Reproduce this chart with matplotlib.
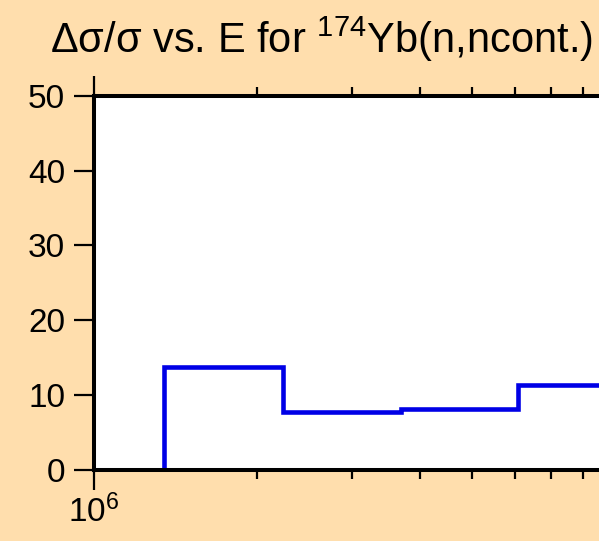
import matplotlib
matplotlib.use("Agg")
import matplotlib.pyplot as plt
from matplotlib.ticker import LogLocator, NullFormatter, FixedLocator

plt.rcParams['font.family'] = ['Liberation Sans', 'DejaVu Sans']
plt.rcParams['mathtext.fontset'] = 'custom'
plt.rcParams['mathtext.rm'] = 'Liberation Sans'
plt.rcParams['mathtext.it'] = 'Liberation Sans'
plt.rcParams['mathtext.bf'] = 'Liberation Sans'

# data (energy bin edges in eV, relative uncertainty in %)
edges = [1.35e6, 2.24e6, 3.70e6, 6.08e6, 1.0e7]
values = [13.7, 7.8, 8.15, 11.3]
yticks = [0, 10, 20, 30, 40, 50]

bg = '#FFDEAD'
W, H = 599, 541
fig = plt.figure(figsize=(W / 100, H / 100), dpi=100, facecolor=bg)

left, right, top, bottom = 93.6, 798.0, 95.7, 470.0
ax = fig.add_axes([left / W, 1 - bottom / H, (right - left) / W, (bottom - top) / H])
ax.set_facecolor('white')
ax.set_xscale('log')
ax.set_xlim(1e6, 2e7)
ax.set_ylim(0, 50)

ax.stairs(values, edges, baseline=0, color='#0000E6', linewidth=3.3, zorder=2)

for s in ax.spines.values():
    s.set_linewidth(2.9)
    s.set_color('black')
    s.set_zorder(3)

ax.set_yticks(yticks)
ax.set_yticklabels([str(v) for v in yticks])
ax.xaxis.set_major_locator(FixedLocator([1e6]))
ax.set_xticklabels(['$10^{6}$'])
ax.xaxis.set_minor_locator(LogLocator(base=10, subs=range(2, 10)))
ax.xaxis.set_minor_formatter(NullFormatter())

ax.tick_params(axis='y', which='major', direction='out', length=14.5, width=1.6,
               labelsize=24, pad=6, left=True, right=False)
ax.tick_params(axis='x', which='major', direction='out', length=14.5, width=1.6,
               labelsize=24, pad=3, top=True, bottom=True)
ax.tick_params(axis='x', which='minor', direction='out', length=6.5, width=1.6,
               top=True, bottom=True)

fig.text(50 / W, 1 - 53 / H,
         'Δσ/σ vs. E for $^{174}$Yb(n,ncont.)',
         ha='left', va='baseline', fontsize=30)

fig.savefig('out.png', dpi=100, facecolor=bg)
